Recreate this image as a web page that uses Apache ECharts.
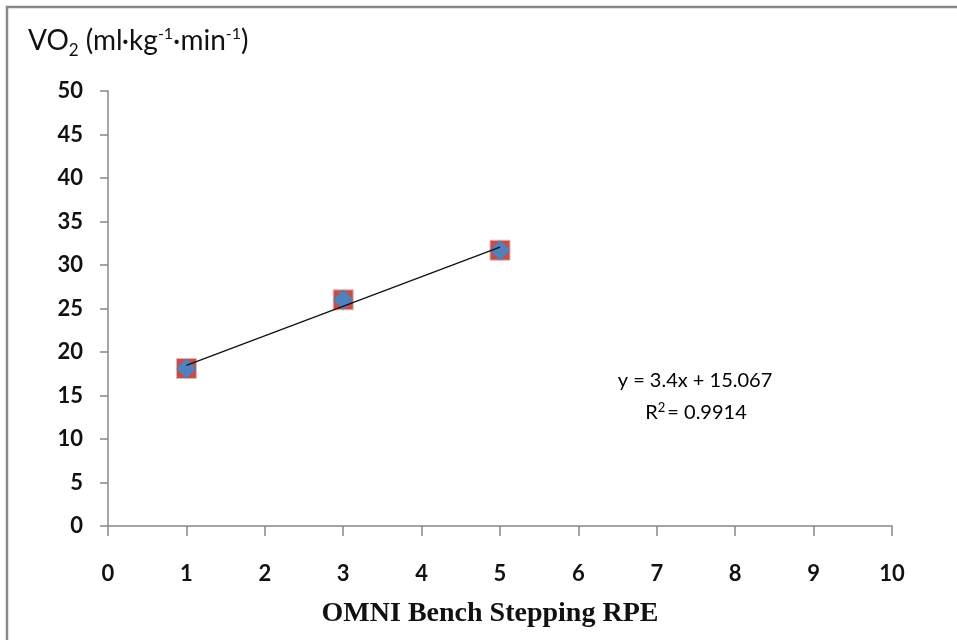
<!DOCTYPE html>
<html>
<head>
<meta charset="utf-8">
<script src="https://cdn.jsdelivr.net/npm/echarts@6/dist/echarts.min.js"></script>
<style>html,body{margin:0;padding:0;background:#fff}#c{width:957px;height:640px}</style>
</head>
<body>
<div id="c"></div>
<script>
const rpe = [1, 3, 5];
const vo2 = [18.1, 26.0, 31.7];
const trendX = [1, 5];
const trendY = [18.467, 32.067];
const xTicks = [0, 10, 1];
const yTicks = [0, 50, 5];
const eqLine1 = 'y = 3.4x + 15.067';
const eqR2 = '0.9914';

const chart = echarts.init(document.getElementById('c'));
const pts = rpe.map((x, i) => [x, vo2[i]]);
const sans = 'Lato, "Open Sans", sans-serif';
chart.setOption({
  animation: false,
  backgroundColor: '#fff',
  grid: { left: 108, right: 65, top: 91, bottom: 114, containLabel: false, outerBoundsMode: 'none' },
  xAxis: {
    type: 'value', min: xTicks[0], max: xTicks[1], interval: xTicks[2],
    name: 'OMNI Bench Stepping RPE', nameLocation: 'middle', nameGap: 74,
    nameTextStyle: { fontFamily: '"Liberation Serif", serif', fontWeight: 'bold', fontSize: 28, color: '#111', padding: [0, 20, 0, 0] },
    axisLine: { lineStyle: { color: '#888', width: 1.5 } },
    axisTick: { length: 10, lineStyle: { color: '#888', width: 1.5 } },
    axisLabel: { margin: 37, fontFamily: sans, fontWeight: 'bold', fontSize: 22, color: '#111' },
    splitLine: { show: false }
  },
  yAxis: {
    type: 'value', min: yTicks[0], max: yTicks[1], interval: yTicks[2],
    axisLine: { show: true, lineStyle: { color: '#888', width: 1.5 } },
    axisTick: { show: true, length: 8, lineStyle: { color: '#888', width: 1.5 } },
    axisLabel: { margin: 25, fontFamily: sans, fontWeight: 'bold', fontSize: 22, color: '#111' },
    splitLine: { show: false }
  },
  graphic: [
    { type: 'rect', shape: { x: 7, y: 7, width: 1200, height: 900 }, style: { fill: 'none', stroke: '#888', lineWidth: 2.5 }, z: 100 },
    { type: 'text', left: 28, top: 23, style: {
        text: '{a|VO}{s|2}{a| (ml·kg}{u|-1}{a|·min}{u|-1}{a|)}',
        rich: {
          a: { fontFamily: sans, fontSize: 28, fill: '#111', verticalAlign: 'middle', lineHeight: 36 },
          s: { fontFamily: sans, fontSize: 17, fill: '#111', verticalAlign: 'bottom', lineHeight: 36 },
          u: { fontFamily: sans, fontSize: 16, fill: '#111', verticalAlign: 'top', lineHeight: 36, padding: [3, 0, 0, 0] }
        }
      } },
    { type: 'text', x: 695, y: 381, style: {
        text: eqLine1, align: 'center', verticalAlign: 'middle',
        font: '20px ' + sans, fill: '#000' } },
    { type: 'text', x: 696, y: 413, style: {
        text: '{a|R}{u|2}{a|= ' + eqR2 + '}', align: 'center', verticalAlign: 'middle',
        rich: {
          a: { fontFamily: sans, fontSize: 20, fill: '#000', verticalAlign: 'middle', lineHeight: 26 },
          u: { fontFamily: sans, fontSize: 13, fill: '#000', verticalAlign: 'top', lineHeight: 26, padding: [1, 2, 0, 0] }
        } } }
  ],
  series: [
    { type: 'scatter', data: pts, symbol: 'rect', symbolSize: 20, z: 2,
      itemStyle: { color: '#C0504D', borderColor: '#E8B4B3', borderWidth: 1, opacity: 1 } },
    { type: 'scatter', data: pts, symbol: 'diamond', symbolSize: 20, z: 3,
      itemStyle: { color: '#4F81BD', opacity: 1 } },
    { type: 'line', data: trendX.map((x, i) => [x, trendY[i]]), symbol: 'none', z: 4,
      lineStyle: { color: '#111', width: 1.3 } }
  ]
});
</script>
</body>
</html>
